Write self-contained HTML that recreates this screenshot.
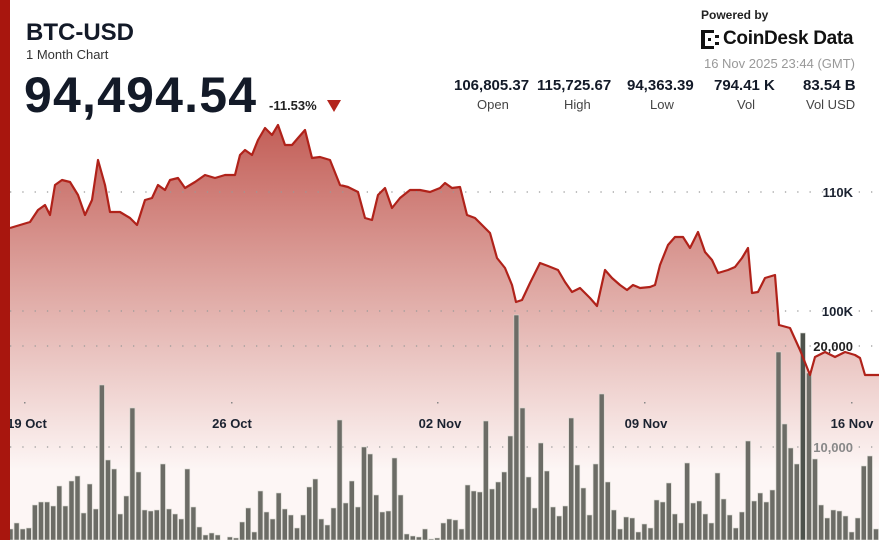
<!DOCTYPE html>
<html><head><meta charset="utf-8">
<style>
html,body{margin:0;padding:0;background:#fff;}
body{width:879px;height:540px;overflow:hidden;position:relative;font-family:"Liberation Sans",sans-serif;color:#131a28;}
#c{position:absolute;left:0;top:0;}
.t{position:absolute;white-space:nowrap;}
</style></head><body>
<svg id="c" width="879" height="540" xmlns="http://www.w3.org/2000/svg">
<defs>
<linearGradient id="g" x1="0" y1="120" x2="0" y2="470" gradientUnits="userSpaceOnUse">
<stop offset="0" stop-color="#c25c55"/>
<stop offset="0.45" stop-color="#dda39e"/>
<stop offset="1" stop-color="#fdf6f5"/>
</linearGradient>
</defs>
<path id="area" fill="url(#g)"/>
<g id="grid" stroke="#999" stroke-width="1.3" stroke-dasharray="1.3 11" fill="none">
<line x1="10" y1="192" x2="879" y2="192"/>
<line x1="10" y1="311" x2="879" y2="311"/>
<line x1="10" y1="346" x2="879" y2="346"/>
<line x1="10" y1="447" x2="879" y2="447"/>
</g>
<g fill="#888"><rect x="24" y="402" width="1.5" height="1.5"/><rect x="231" y="402" width="1.5" height="1.5"/><rect x="437" y="402" width="1.5" height="1.5"/><rect x="644" y="402" width="1.5" height="1.5"/><rect x="851" y="402" width="1.5" height="1.5"/></g>
<g id="bars"></g>
<path id="line" fill="none" stroke="#b0221a" stroke-width="2.2" stroke-linejoin="round"/>
<g font-family="Liberation Sans, sans-serif" font-weight="bold" font-size="13" fill="#1b2230">
<text x="853" y="197" text-anchor="end">110K</text>
<text x="853" y="316" text-anchor="end">100K</text>
<text x="853" y="351" text-anchor="end" fill="#222">20,000</text>
<text x="853" y="452" text-anchor="end" fill="#888">10,000</text>
<text x="27" y="428" text-anchor="middle">19 Oct</text>
<text x="232" y="428" text-anchor="middle">26 Oct</text>
<text x="440" y="428" text-anchor="middle">02 Nov</text>
<text x="646" y="428" text-anchor="middle">09 Nov</text>
<text x="852" y="428" text-anchor="middle">16 Nov</text>
</g>
<rect x="0" y="0" width="10" height="540" fill="#a8160e"/>
</svg>
<div class="t" style="left:26px;top:19px;font-size:24px;font-weight:bold;">BTC-USD</div>
<div class="t" style="left:26px;top:47px;font-size:13px;color:#333;">1 Month Chart</div>
<div class="t" style="left:24px;top:66px;font-size:50px;font-weight:bold;letter-spacing:1.2px;">94,494.54</div>
<div class="t" style="left:269px;top:98px;font-size:13px;font-weight:bold;color:#222;">-11.53%</div>
<svg class="t" style="left:327px;top:100px" width="15" height="13"><polygon points="0,0 14,0 7,12" fill="#b3241c"/></svg>
<div class="t" style="left:701px;top:8px;font-size:12px;font-weight:bold;color:#222;">Powered by</div>
<svg class="t" style="left:701px;top:30px" width="20" height="20"><g fill="#111"><rect x="0" y="0" width="4" height="19"/><rect x="4" y="0" width="9" height="3"/><rect x="4" y="16" width="9" height="3"/><rect x="14" y="5" width="4" height="3"/><rect x="14" y="12" width="4" height="3"/><rect x="7" y="8" width="3" height="3"/></g></svg>
<div class="t" style="left:723px;top:28px;font-size:19px;font-weight:bold;color:#111;letter-spacing:-0.3px;">CoinDesk Data</div>
<div class="t" style="right:24px;top:56px;font-size:13px;color:#999;">16 Nov 2025 23:44 (GMT)</div>
<div class="t" style="left:454px;top:77px;font-size:15px;font-weight:bold;">106,805.37</div>
<div class="t" style="left:537px;top:77px;font-size:15px;font-weight:bold;">115,725.67</div>
<div class="t" style="left:627px;top:77px;font-size:15px;font-weight:bold;">94,363.39</div>
<div class="t" style="left:714px;top:77px;font-size:15px;font-weight:bold;">794.41 K</div>
<div class="t" style="left:803px;top:77px;font-size:15px;font-weight:bold;">83.54 B</div>
<div class="t" style="left:477px;top:97px;font-size:13px;color:#444;">Open</div>
<div class="t" style="left:564px;top:97px;font-size:13px;color:#444;">High</div>
<div class="t" style="left:650px;top:97px;font-size:13px;color:#444;">Low</div>
<div class="t" style="left:737px;top:97px;font-size:13px;color:#444;">Vol</div>
<div class="t" style="left:806px;top:97px;font-size:13px;color:#444;">Vol USD</div>
<script>
var P=[[10,228],[20,225],[30,222],[38,210],[45,205],[50,215],[55,185],[62,180],[70,182],[78,195],[85,215],[92,200],[98,160],[105,185],[110,212],[120,212],[130,218],[137,225],[145,200],[152,198],[158,185],[165,190],[170,180],[178,178],[185,188],[195,182],[205,175],[215,178],[225,175],[235,175],[240,155],[245,150],[252,155],[258,140],[265,128],[272,135],[278,125],[285,145],[292,145],[298,138],[305,130],[312,158],[320,157],[330,160],[340,185],[348,187],[358,192],[365,218],[372,220],[378,195],[385,188],[392,208],[400,198],[410,190],[420,190],[430,192],[440,188],[445,183],[452,188],[460,187],[467,215],[475,218],[482,225],[490,233],[497,258],[505,268],[512,285],[516,302],[522,300],[530,283],[540,263],[548,266],[558,270],[565,282],[572,292],[580,288],[590,298],[597,306],[605,270],[612,278],[620,285],[627,290],[633,285],[640,288],[650,287],[655,285],[660,265],[668,245],[675,237],[683,237],[690,248],[698,232],[705,252],[712,260],[718,273],[728,270],[735,267],[742,258],[748,248],[752,293],[758,292],[765,278],[775,275],[779,325],[790,328],[800,350],[810,375],[815,357],[825,352],[835,357],[845,352],[855,355],[860,358],[865,375],[879,375]];
var d="M"+P.map(function(p){return p[0]+","+p[1]}).join(" L");
document.getElementById("line").setAttribute("d",d);
document.getElementById("area").setAttribute("d",d+" L879,540 L10,540 Z");
var B=[529,523,529,528,505,502,502,506,486,506,481,476,513,484,509,385,460,469,514,496,408,472,510,511,510,464,509,514,519,469,507,527,535,533,535,540,537,538,522,508,532,491,512,519,493,509,515,528,515,487,479,519,525,508,420,503,481,507,447,454,495,512,511,458,495,534,536,537,529,539,538,
523,519,520,529,485,491,492,421,489,482,472,436,315,408,477,508,443,471,507,516,506,418,465,488,515,464,394,482,510,529,517,518,532,524,528,500,502,483,514,523,463,503,501,514,523,473,499,515,528,512,441,501,493,502,490,352,424,448,464,333,373,459,505,518,510,511,516,532,518,466,456,529];
var n=B.length,x0=8,x1=873.5,s=(x1-x0)/(n-1),h="";
for(var i=0;i<n;i++){var x=x0+i*s;var c=(B[i]==333)?"#4d524c":"#6c6c66";
h+='<rect x="'+x.toFixed(1)+'" y="'+B[i]+'" width="5" height="'+(540-B[i])+'" fill="'+c+'" stroke="#d8d8d0" stroke-width="0.6"/>';}
document.getElementById("bars").innerHTML=h;
</script>
</body></html>
